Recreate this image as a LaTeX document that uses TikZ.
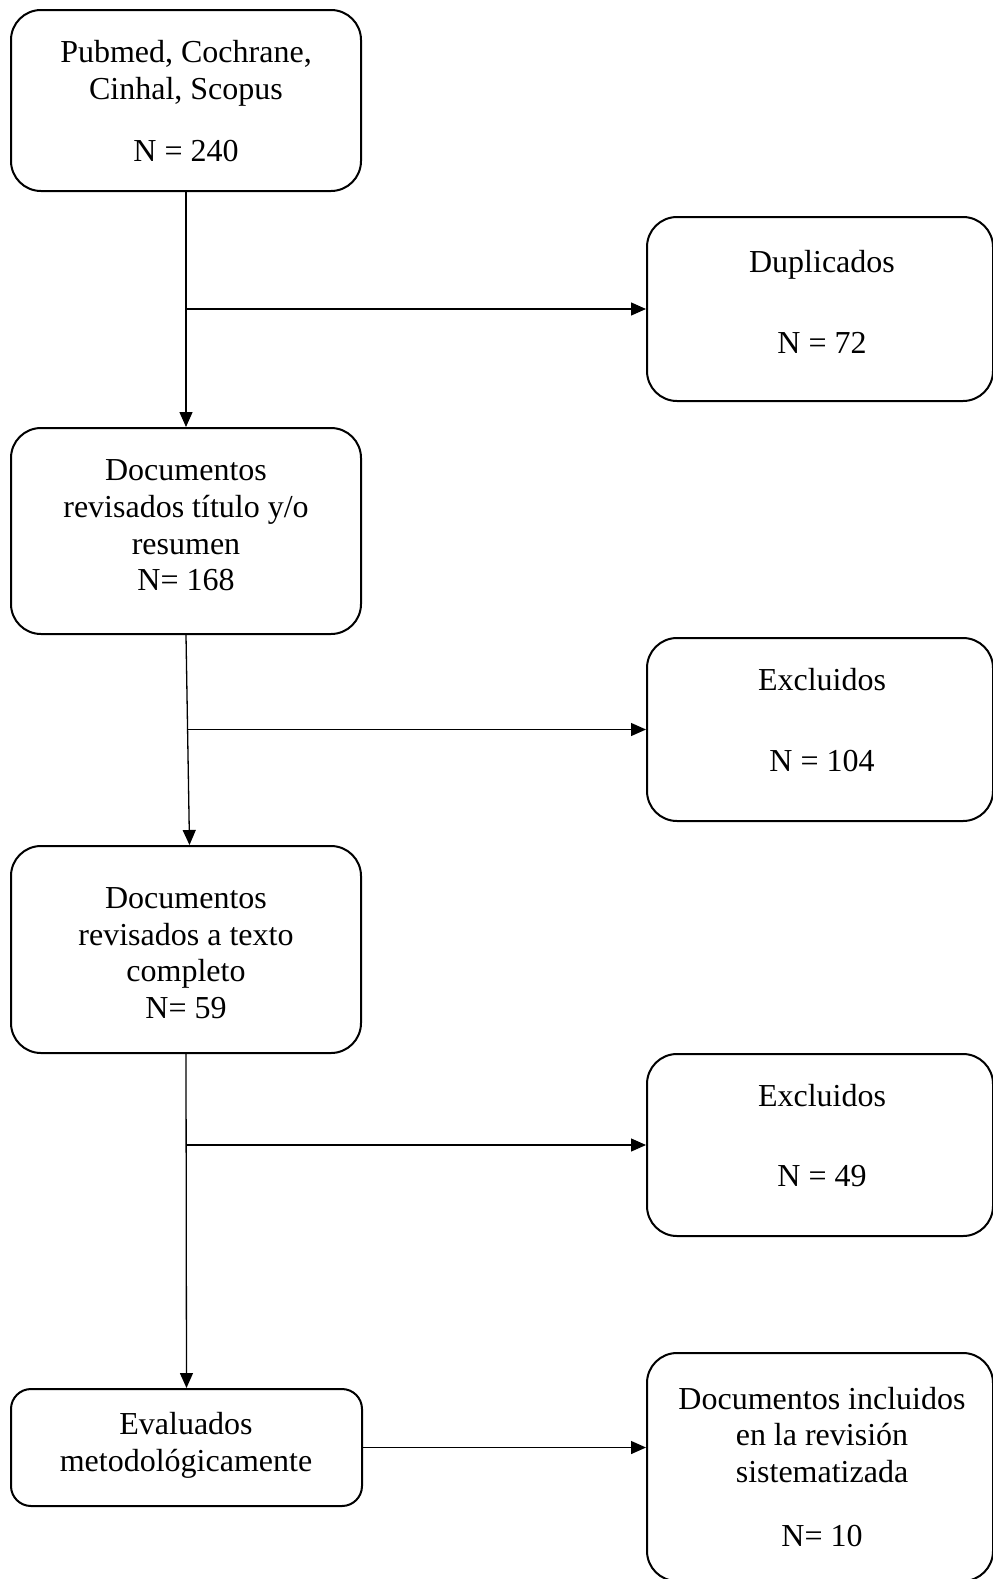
\documentclass[tikz,border=0pt]{standalone}
\usepackage{fontspec}
\setmainfont{Liberation Serif}
\usetikzlibrary{arrows.meta}
\begin{document}
\begin{tikzpicture}[x=0.5pt,y=-0.5pt,
  box/.style={draw,line width=1pt,rounded corners=15pt,inner sep=0pt},
  txt/.style={align=center,font=\fontsize{16}{18.3}\selectfont,inner sep=0pt},
  arr/.style={line width=0.65pt,-{Triangle[length=7.5pt,width=6.5pt]}}]
\path[use as bounding box,fill=white] (0,0) rectangle (992,1579);
% boxes
\node[box,minimum width=175pt,minimum height=90.5pt] (b1) at (186,100.5) {};
\node[box,minimum width=173pt,minimum height=92pt] (dup) at (820,309) {};
\node[box,minimum width=175pt,minimum height=103pt] (b2) at (186,531) {};
\node[box,minimum width=173pt,minimum height=91.5pt] (ex1) at (820,729.5) {};
\node[box,minimum width=175pt,minimum height=103.5pt] (b3) at (186,949.5) {};
\node[box,minimum width=173pt,minimum height=91pt] (ex2) at (820,1145) {};
\node[box,rounded corners=10pt,minimum width=175.5pt,minimum height=58.5pt] (ev) at (186.5,1447.5) {};
\node[box,minimum width=173pt,minimum height=114pt] (fin) at (820,1467) {};
% texts
\node[txt] (t1) at (186,101.5) {Pubmed, Cochrane,\\Cinhal, Scopus\\[12.9pt]N = 240};
\node[txt] (tdup) at (822,301.5) {Duplicados\\[22.2pt]N = 72};
\node[txt] (t2) at (186,525.5) {Documentos\\revisados título y/o\\resumen\\N= 168};
\node[txt] (tex1) at (822,720.5) {Excluidos\\[22.2pt]N = 104};
\node[txt] (t3) at (186,953) {Documentos\\revisados a texto\\completo\\N= 59};
\node[txt] (tex2) at (822,1136) {Excluidos\\[21.7pt]N = 49};
\node[txt] (tev) at (186,1445.5) {Evaluados\\metodológicamente};
\node[txt] (tfin) at (822,1467) {Documentos incluidos\\en la revisión\\sistematizada\\[13.7pt]N= 10};
% connectors
\draw[arr] (b1.south) -- (b2.north);
\draw[arr] (b1.south |- dup.west) -- (dup.west);
\draw[arr] (b2.south) -- ([xshift=1.75pt]b3.north);
\draw[arr] ([xshift=0.8pt]b2.south |- ex1.west) -- (ex1.west);
\draw[arr] (b3.south) -- (ev.north);
\draw[arr] (b3.south |- ex2.west) -- (ex2.west);
\draw[arr] (ev.east) -- (ev.east -| fin.west);
\end{tikzpicture}
\end{document}
